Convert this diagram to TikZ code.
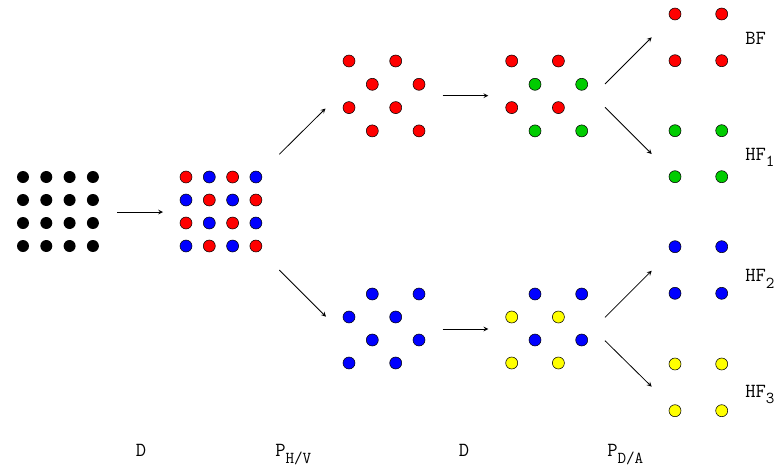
\documentclass[tikz,border=0pt]{standalone}
\usepackage{fontspec}
\usetikzlibrary{arrows.meta}
\definecolor{dotgreen}{RGB}{0,204,0}
\definecolor{dotyellow}{RGB}{255,255,0}
\newcommand{\lowsub}[1]{\raisebox{-5pt}{\fontsize{12.5}{13}\selectfont #1}}
\tikzset{
  bdot/.style={circle, fill=black, inner sep=0pt, minimum size=9pt},
  cdot/.style={circle, draw=black, line width=0.4pt, inner sep=0pt, minimum size=9pt},
  lbl/.style={font=\ttfamily\fontsize{15}{18}\selectfont, inner sep=0pt}
}

\begin{document}
\begin{tikzpicture}[>=stealth, x=0.75pt, y=-0.75pt]
\useasboundingbox (0,0) rectangle (784,468);

%% black grid
\foreach \i in {0,...,3}
  \foreach \j in {0,...,3}
    \node[bdot] (k\i\j) at (23+23.3*\i, 177+23*\j) {};

%% checkerboard red / blue
\foreach \i in {0,...,3}
  \foreach \j in {0,...,3}{
    \pgfmathparse{int(mod(\i+\j,2))}
    \ifnum\pgfmathresult=0 \def\dc{red}\else\def\dc{blue}\fi
    \node[cdot, fill=\dc] (c\i\j) at (186+23.3*\i, 177+23*\j) {};
  }

%% upper and lower branches (staggered rows)
\foreach \r/\ca/\cb in {0/red/red, 1/red/dotgreen, 2/red/red, 3/red/dotgreen}{
  \pgfmathsetmacro{\off}{mod(\r,2)*23.3}
  \node[cdot, fill=\ca] (ua\r) at (349+\off, 61+23.3*\r) {};
  \node[cdot, fill=\ca] (ub\r) at (395.7+\off, 61+23.3*\r) {};
  \node[cdot, fill=\cb] (va\r) at (511.7+\off, 61+23.3*\r) {};
  \node[cdot, fill=\cb] (vb\r) at (558.4+\off, 61+23.3*\r) {};
}
\foreach \r/\ca/\cb in {0/blue/blue, 1/blue/dotyellow, 2/blue/blue, 3/blue/dotyellow}{
  \pgfmathsetmacro{\off}{mod(\r+1,2)*23.3}
  \node[cdot, fill=\ca] (la\r) at (349+\off, 294+23*\r) {};
  \node[cdot, fill=\ca] (lb\r) at (395.7+\off, 294+23*\r) {};
  \node[cdot, fill=\cb] (ma\r) at (511.7+\off, 294+23*\r) {};
  \node[cdot, fill=\cb] (mb\r) at (558.4+\off, 294+23*\r) {};
}

%% final column
\foreach \y/\c [count=\n] in {14/red, 60.7/red, 130.7/dotgreen, 176.7/dotgreen,
    246.7/blue, 293.3/blue, 364/dotyellow, 410.7/dotyellow}{
  \node[cdot, fill=\c] (fa\n) at (675, \y) {};
  \node[cdot, fill=\c] (fb\n) at (721.7, \y) {};
}

%% arrow ends
\coordinate (s1) at (117,212);     \coordinate (e1) at (163,212);
\coordinate (s2) at (279.3,154.3); \coordinate (e2) at (325.5,108.5);
\coordinate (s3) at (279.3,270);   \coordinate (e3) at (326,316.7);
\coordinate (s4) at (442.7,95.7);  \coordinate (e4) at (488.3,95.7);
\coordinate (s5) at (442.7,329);   \coordinate (e5) at (488.3,329);
\coordinate (s6) at (605,84);      \coordinate (e6) at (651.7,37.3);
\coordinate (s7) at (605,107.3);   \coordinate (e7) at (651.7,154);
\coordinate (s8) at (605,317.3);   \coordinate (e8) at (651.7,270.7);
\coordinate (s9) at (605,340.7);   \coordinate (e9) at (651.7,386.7);
\foreach \k in {1,...,9}
  \draw[->, line width=0.6pt] (s\k) -- (e\k);

%% labels
\node[lbl, anchor=base west] (bf)  at (745,44.3)  {BF};
\node[lbl, anchor=base west] (hf1) at (745,160)   {HF\lowsub{1}};
\node[lbl, anchor=base west] (hf2) at (745,281.7) {HF\lowsub{2}};
\node[lbl, anchor=base west] (hf3) at (745,397.3) {HF\lowsub{3}};

\node[lbl, anchor=base] (d1) at (141,456.7) {D};
\node[lbl, anchor=base west] (phv) at (275,456.7) {P\lowsub{H/V}};
\node[lbl, anchor=base] (d2) at (464,456.7) {D};
\node[lbl, anchor=base west] (pda) at (607,456.7) {P\lowsub{D/A}};
\end{tikzpicture}
\end{document}
